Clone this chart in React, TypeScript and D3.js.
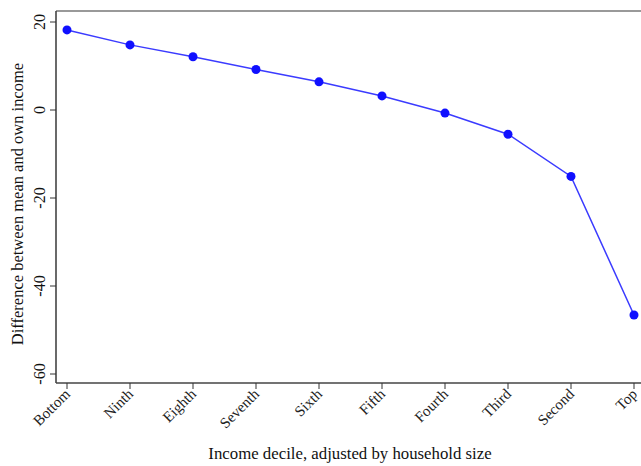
import React from "react";
import * as d3 from "d3";

const deciles = ["Bottom", "Ninth", "Eighth", "Seventh", "Sixth", "Fifth", "Fourth", "Third", "Second", "Top"];
const gaps = [18.2, 14.8, 12.1, 9.2, 6.4, 3.2, -0.7, -5.5, -15.1, -46.6];
const yTicks = [-60, -40, -20, 0, 20];

const W = 641;
const H = 466;
const frame = { left: 56, top: 11, bottom: 383, right: 700 };

export default function App() {
  const x = d3.scalePoint<string>().domain(deciles).range([67, 634]);
  const y = d3.scaleLinear().domain([-60, 20]).range([374, 22]);
  const pts = deciles.map((d, i) => ({ d, v: gaps[i] }));
  const line = d3
    .line<{ d: string; v: number }>()
    .x((p) => x(p.d) as number)
    .y((p) => y(p.v));
  const font = "'Liberation Serif', 'Times New Roman', serif";

  return (
    <svg
      width={W}
      height={H}
      style={{ position: "absolute", left: 0, top: 0, background: "#fff" }}
      fontFamily={font}
    >
      {/* plot frame */}
      <line x1={frame.left} x2={frame.right} y1={frame.top} y2={frame.top} stroke="#777" strokeWidth={1.6} />
      <line x1={frame.left} x2={frame.left} y1={frame.top} y2={frame.bottom} stroke="#444" strokeWidth={1.6} />
      <line x1={frame.left} x2={frame.right} y1={frame.bottom} y2={frame.bottom} stroke="#444" strokeWidth={1.6} />

      {/* y axis */}
      {yTicks.map((t) => (
        <g key={t} transform={`translate(0,${y(t)})`}>
          <line x1={frame.left - 6} x2={frame.left} stroke="#333" strokeWidth={1} />
          <text
            transform={`translate(45,0) rotate(-90)`}
            textAnchor="middle"
            fontSize={16}
            fill="#111"
          >
            {t}
          </text>
        </g>
      ))}
      <text
        transform={`translate(23,${204}) rotate(-90)`}
        textAnchor="middle"
        fontSize={16.5}
        fill="#111"
      >
        Difference between mean and own income
      </text>

      {/* x axis */}
      {deciles.map((d) => (
        <g key={d} transform={`translate(${x(d)},0)`}>
          <line y1={frame.bottom} y2={frame.bottom + 6} stroke="#333" strokeWidth={1} />
          <text
            transform={`translate(4,${frame.bottom + 12}) rotate(-45)`}
            textAnchor="end"
            fontSize={15}
            fill="#222"
          >
            {d}
          </text>
        </g>
      ))}
      <text x={350} y={459} textAnchor="middle" fontSize={16.8} fill="#111">
        Income decile, adjusted by household size
      </text>

      {/* series */}
      <path d={line(pts) ?? ""} fill="none" stroke="#3b3bff" strokeWidth={1.5} />
      {pts.map((p) => (
        <circle key={p.d} cx={x(p.d) as number} cy={y(p.v)} r={4.5} fill="#1010ff" />
      ))}
    </svg>
  );
}
